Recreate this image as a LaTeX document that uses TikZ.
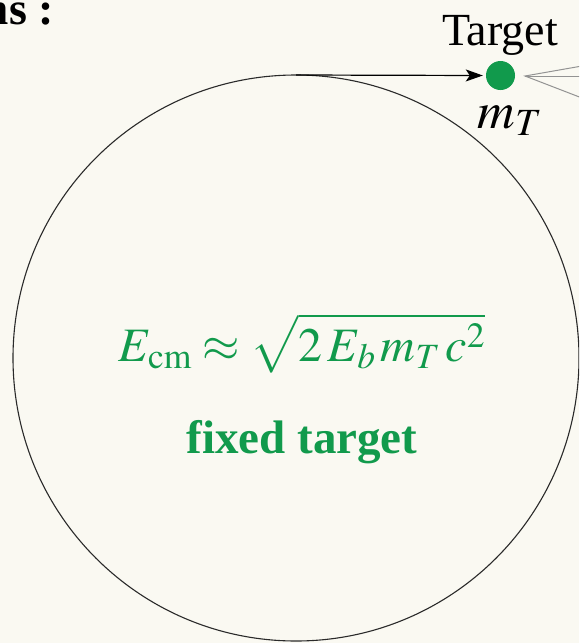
\documentclass[tikz,border=0pt]{standalone}
\usepackage{mathptmx}
\usepackage{fontspec}
\setmainfont{Liberation Serif}
\usetikzlibrary{arrows.meta}
\definecolor{bg}{HTML}{FAF9F2}
\definecolor{tgreen}{HTML}{119A4C}
\definecolor{ringc}{HTML}{2A2A2A}
\begin{document}
\begin{tikzpicture}[x=1pt,y=-1pt,
  ring/.style={draw=ringc,line width=1.1pt},
  beam/.style={draw=black,line width=1.2pt,-{Stealth[length=17pt,width=12pt,inset=4pt]}},
  cone/.style={draw=gray!85,line width=1pt},
  big/.style={font=\fontsize{46}{50}\selectfont,inner sep=0pt}]
\fill[bg] (0,0) rectangle (579,643);
\useasboundingbox (0,0) rectangle (579,643);
\begin{scope}
\clip (0,0) rectangle (579,643);
\node[big,font=\fontsize{46}{50}\selectfont\bfseries,anchor=base east] (head) at (54,24) {ms :};
\draw[ring] (296,358) circle[radius=283pt];
\coordinate (start) at (296,75);
\node[circle,fill=tgreen,minimum size=29pt,inner sep=0pt] (dot) at (500.5,75.5) {};
\draw[beam] (start) -- ([xshift=-3pt]dot.west);
\coordinate (apex) at (525,76);
\coordinate (c1) at (582,66);
\coordinate (c2) at (582,76);
\coordinate (c3) at (582,98);
\draw[cone] (c1) -- (apex) -- (c3);
\draw[cone] (apex) -- (c2);
\node[big,anchor=base] (tlabel) at (500,45) {Target};
\node[big,font=\fontsize{52}{56}\selectfont,anchor=base] (mlabel) at (510,128) {$m_T$};
\node[big,font=\fontsize{48}{52}\selectfont,text=tgreen,anchor=base] (formula) at (302,361) {$E_{\mathrm{cm}}\approx\sqrt{2\,E_b\,m_T\,c^2}$};
\node[big,text=tgreen,font=\fontsize{47}{50}\selectfont\bfseries,anchor=base] (fixed) at (302,453) {fixed target};
\end{scope}
\end{tikzpicture}
\end{document}
